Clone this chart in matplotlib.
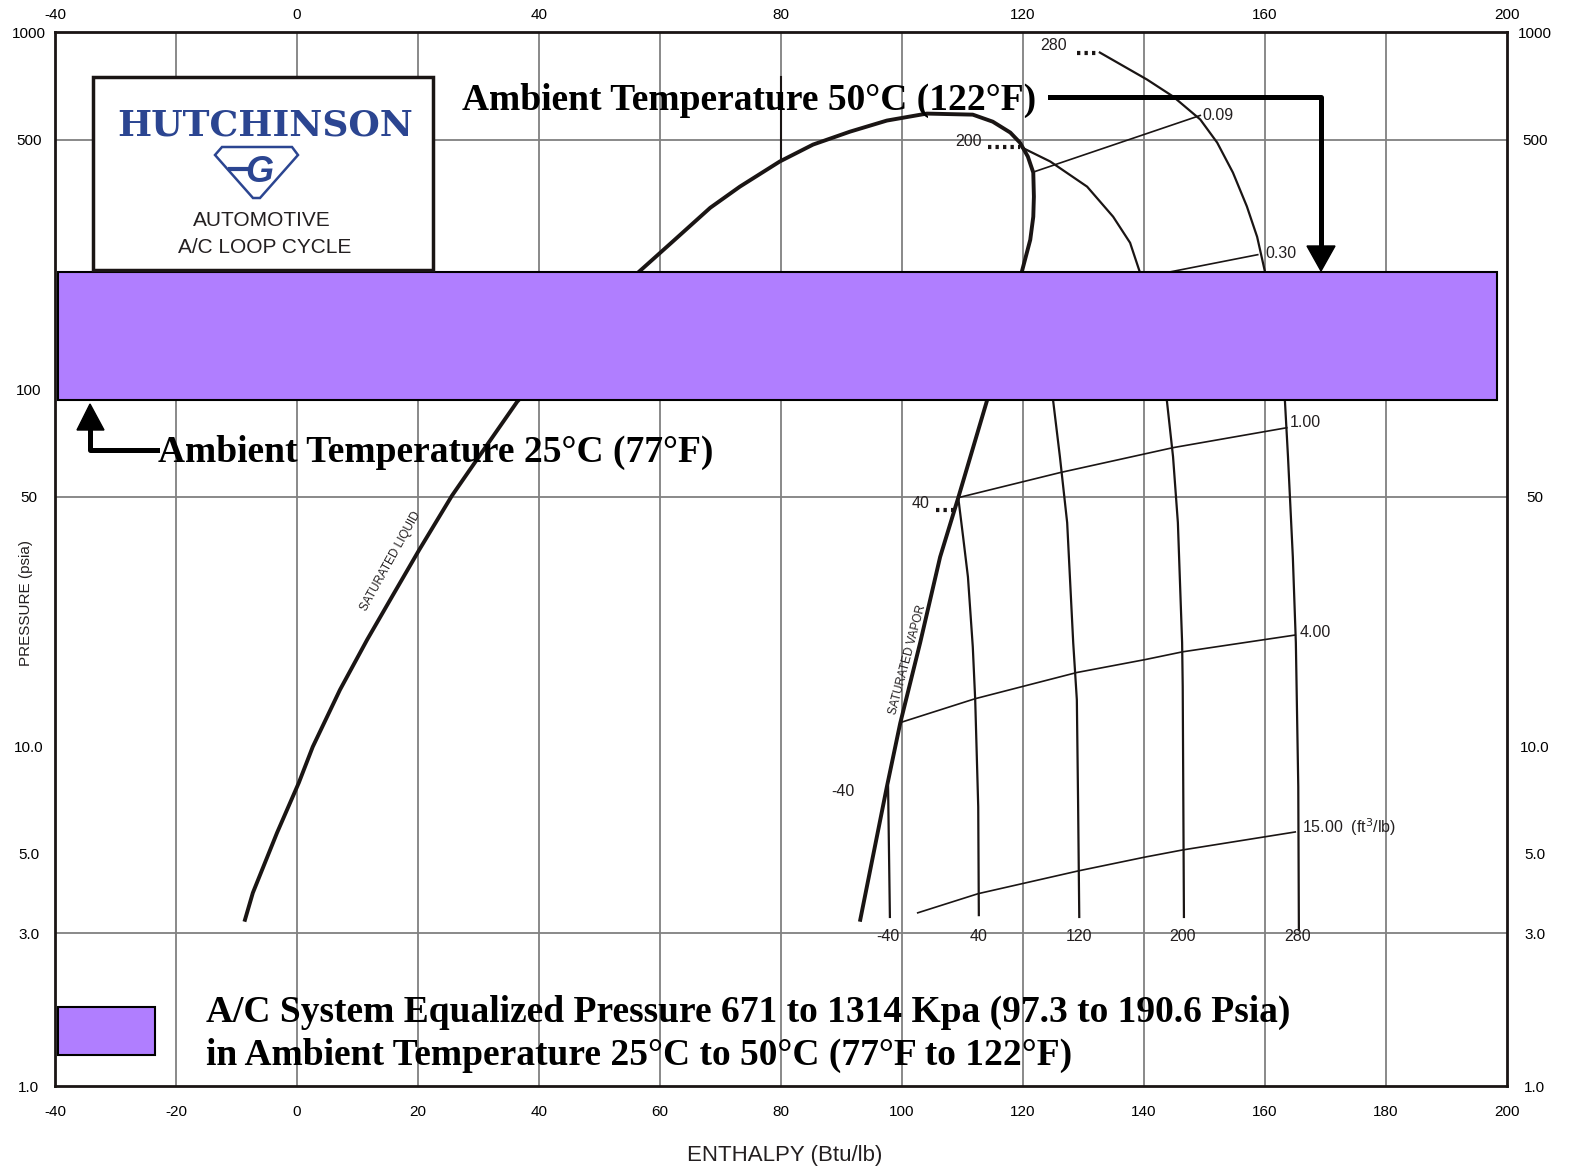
import matplotlib
matplotlib.use("Agg")
import matplotlib.pyplot as plt
from matplotlib.patches import Rectangle, Polygon
from matplotlib.lines import Line2D

# enthalpy (Btu/lb) / pressure (psia)
dome_h = [-8.6, -7.3, -3.3, 0.3, 2.6, 7.1, 11.6, 15.9, 20.2, 25.6, 31.1, 36.4, 46.8, 56.5,
          62.1, 68.3, 73.2, 79.8, 85.3, 91.4, 97.5, 104.1, 111.7, 115.0, 117.9, 119.5,
          120.8, 121.7, 121.8, 121.7, 121.2, 119.8,
          114.0, 109.3, 106.3, 103.0, 99.7, 97.5, 93.1]
dome_p = [3.27, 3.89, 5.73, 7.91, 9.97, 14.4, 19.9, 26.6, 35.5, 50.3, 68.6, 92.3, 142, 213,
          259, 322, 369, 434, 484, 526, 565, 591, 587, 561, 523, 490,
          448, 404, 346, 304, 262, 213,
          92.3, 49.7, 33.9, 19.5, 11.6, 7.71, 3.27]

# isotherms (deg F)
t_m40_h = [97.7, 98.0]
t_m40_p = [7.71, 3.33]
t_40_h = [109.3, 110.1, 110.9, 111.7, 112.1, 112.6, 112.7]
t_40_p = [49.7, 38.6, 29.8, 19.0, 13.5, 6.77, 3.37]
t_120_h = [124.1, 125.0, 126.1, 127.3, 128.3, 128.9, 129.1, 129.3]
t_120_p = [121, 92.3, 64.7, 42.3, 19.5, 13.5, 7.08, 3.33]
t_200_h = [119.8, 124.5, 130.6, 134.9, 137.7, 139.3, 143.8, 144.8, 145.6, 146.3, 146.4, 146.6]
t_200_p = [475, 434, 369, 304, 257, 213, 92.3, 64.7, 42.3, 19.5, 14.7, 3.33]
t_280_h = [132.7, 140.5, 144.8, 149.3, 152.1, 154.7, 157.0, 158.7, 160.0, 163.3, 163.8,
           164.6, 165.1, 165.5, 165.6]
t_280_p = [876, 736, 660, 569, 490, 404, 325, 267, 213, 92.3, 64.7, 33.9, 19.5, 7.71, 3.06]

# specific volume lines (ft3/lb)
v_009_h = [122.0, 149.3]
v_009_p = [407, 584]
v_030_h = [144.3, 158.8]
v_030_p = [213, 238]
v_100_h = [109.3, 126.1, 144.8, 163.6]
v_100_p = [49.7, 58.4, 68.6, 78.0]
v_400_h = [100.0, 112.1, 128.9, 140.2, 146.4, 165.0]
v_400_p = [11.7, 13.6, 16.1, 17.5, 18.4, 20.5]
v_1500_h = [102.6, 112.6, 129.1, 140.2, 146.4, 165.0]
v_1500_p = [3.42, 3.87, 4.48, 4.90, 5.13, 5.76]

marker_h = [80.0, 80.0]
marker_p = [746, 434]

# equalized pressure band as drawn
band_h = [-39.5, 198.3]
band_p = [93.5, 213.0]

bottom_ticks = list(range(-40, 201, 20))
top_ticks = [-40, 0, 40, 80, 120, 160, 200]
grid_h = list(range(-20, 181, 20))
grid_p = [3, 50, 500]
left_ticks = [1.12, 3, 5, 10, 50, 100, 500, 1000]
left_labels = ["1.0", "3.0", "5.0", "10.0", "50", "100", "500", "1000"]
right_ticks = [1.12, 3, 5, 10, 50, 500, 1000]
right_labels = ["1.0", "3.0", "5.0", "10.0", "50", "500", "1000"]

W, H = 1570, 1175
SANS = "Liberation Sans"
SERIF = "Liberation Serif"
PURPLE = "#b07eff"
BLUE = "#2b4591"


def fx(px):
    return px / W


def fy(py):
    return 1 - py / H


fig = plt.figure(figsize=(W / 100, H / 100), dpi=100)
ax = fig.add_axes([fx(55), fy(1086), 1452 / W, 1054 / H])
ax.set_yscale("log")
ax.set_xlim(-40, 200)
ax.set_ylim(1.12, 1000)

for g in grid_h:
    ax.axvline(g, color="#808080", lw=1.3, zorder=1)
for g in grid_p:
    ax.axhline(g, color="#808080", lw=1.3, zorder=1)

ax.plot(dome_h, dome_p, color="#1a1514", lw=2.8, zorder=3, solid_joinstyle="round")
for hh, pp in [(t_m40_h, t_m40_p), (t_40_h, t_40_p), (t_120_h, t_120_p),
               (t_200_h, t_200_p), (t_280_h, t_280_p)]:
    ax.plot(hh, pp, color="#1a1514", lw=1.6, zorder=3)
for hh, pp in [(v_009_h, v_009_p), (v_030_h, v_030_p), (v_100_h, v_100_p),
               (v_400_h, v_400_p), (v_1500_h, v_1500_p)]:
    ax.plot(hh, pp, color="#1a1514", lw=1.2, zorder=3)
ax.plot(marker_h, marker_p, color="#1a1514", lw=1.5, zorder=3)

# dotted leaders for isotherm labels
dots = dict(color="#1a1514", lw=3, ls=(0, (0.8, 1.0)), zorder=3)
ax.plot([114.2, 119.5], [475, 475], **dots)
ax.plot([128.9, 132.2], [876, 876], **dots)
ax.plot([105.6, 108.6], [46.0, 46.0], **dots)

lab = dict(fontsize=11.5, family=SANS, color="#231f20", zorder=4)
ax.text(113.2, 494, "200", ha="right", va="center", **lab)
ax.text(127.3, 917, "280", ha="right", va="center", **lab)
ax.text(104.5, 47.8, "40", ha="right", va="center", **lab)
ax.text(90.2, 7.46, "-40", ha="center", va="center", **lab)
ax.text(149.7, 584, "0.09", ha="left", va="center", **lab)
ax.text(160.0, 240, "0.30", ha="left", va="center", **lab)
ax.text(164.1, 80.6, "1.00", ha="left", va="center", **lab)
ax.text(165.8, 20.9, "4.00", ha="left", va="center", **lab)
ax.text(166.1, 5.95, "15.00  (ft$^3$/lb)", ha="left", va="center", **lab)
for hv, s in [(97.7, "-40"), (112.7, "40"), (129.3, "120"), (146.4, "200"), (165.3, "280")]:
    ax.text(hv, 2.93, s, ha="center", va="center", **lab)
ax.text(15.5, 33, "SATURATED LIQUID", rotation=61, ha="center", va="center",
        fontsize=8.5, family=SANS, color="#231f20", zorder=4)
ax.text(101.0, 17.5, "SATURATED VAPOR", rotation=75, ha="center", va="center",
        fontsize=8.5, family=SANS, color="#231f20", zorder=4)

ax.add_patch(Rectangle((band_h[0], band_p[0]), band_h[1] - band_h[0], band_p[1] - band_p[0],
                       facecolor=PURPLE, edgecolor="black", lw=1.5, zorder=5))

# axes styling
for sp in ax.spines.values():
    sp.set_linewidth(2)
    sp.set_color("#1a1514")
ax.set_xticks(bottom_ticks)
ax.set_xticklabels([str(t) for t in bottom_ticks], fontsize=11, family=SANS)
ax.set_yticks(left_ticks)
ax.set_yticklabels(left_labels, fontsize=11, family=SANS)
ax.minorticks_off()
ax.tick_params(axis="x", length=0, pad=14)
ax.tick_params(axis="y", length=0, pad=19)
for t in ax.get_yticklabels():
    t.set_horizontalalignment("center")

top = ax.secondary_xaxis("top")
top.set_xticks(top_ticks)
top.set_xticklabels([str(t) for t in top_ticks], fontsize=11, family=SANS)
top.tick_params(length=0, pad=7)
right = ax.secondary_yaxis("right")
right.set_yticks(right_ticks)
right.set_yticklabels(right_labels, fontsize=11, family=SANS)
right.yaxis.set_minor_locator(matplotlib.ticker.NullLocator())
right.tick_params(length=0, pad=20)
for t in right.get_yticklabels():
    t.set_horizontalalignment("center")

fig.text(fx(785), fy(1155), "ENTHALPY (Btu/lb)", ha="center", va="center",
         fontsize=16, family=SANS, color="#231f20")
fig.text(fx(26), fy(603), "PRESSURE (psia)", ha="center", va="center", rotation=90,
         fontsize=11, family=SANS, color="#231f20")

# logo box
fig.add_artist(Rectangle((fx(93), fy(270)), 340 / W, 193 / H, transform=fig.transFigure,
                         facecolor="white", edgecolor="#1a1514", lw=2.5, zorder=6))
fig.text(fx(265), fy(125), "HUTCHINSON", ha="center", va="center", fontsize=26,
         family="DejaVu Serif", weight="bold", color=BLUE, zorder=7)
shield = [(fx(222), fy(147)), (fx(292), fy(147)), (fx(298), fy(155)), (fx(260), fy(198)),
          (fx(253), fy(198)), (fx(215), fy(155))]
fig.add_artist(Polygon(shield, closed=True, transform=fig.transFigure, facecolor="white",
                       edgecolor=BLUE, lw=1.8, zorder=7))
fig.add_artist(Line2D([fx(230), fx(250)], [fy(169), fy(169)], transform=fig.transFigure,
                      color=BLUE, lw=3, zorder=8))
fig.text(fx(259), fy(172), "G", ha="center", va="center", fontsize=26, weight="bold",
         style="italic", family=SANS, color=BLUE, zorder=8)
fig.text(fx(262), fy(221), "AUTOMOTIVE", ha="center", va="center", fontsize=15,
         family=SANS, color="#231f20", zorder=7)
fig.text(fx(265), fy(247), "A/C LOOP CYCLE", ha="center", va="center", fontsize=15,
         family=SANS, color="#231f20", zorder=7)

# ambient temperature callouts
big = dict(fontsize=27, family=SERIF, weight="bold", color="black", zorder=8)
fig.text(fx(462), fy(100), "Ambient Temperature 50°C (122°F)", ha="left", va="center", **big)
fig.add_artist(Line2D([fx(1050), fx(1321), fx(1321)], [fy(97), fy(97), fy(248)],
                      transform=fig.transFigure, color="black", lw=3.6, zorder=8))
fig.add_artist(Polygon([(fx(1307), fy(246)), (fx(1335), fy(246)), (fx(1321), fy(271))],
                       closed=True, transform=fig.transFigure, color="black", zorder=8))

fig.text(fx(158), fy(452), "Ambient Temperature 25°C (77°F)", ha="left", va="center", **big)
fig.add_artist(Line2D([fx(157), fx(90), fx(90)], [fy(450), fy(450), fy(428)],
                      transform=fig.transFigure, color="black", lw=3.6, zorder=8))
fig.add_artist(Polygon([(fx(77), fy(430)), (fx(104), fy(430)), (fx(90), fy(404))],
                       closed=True, transform=fig.transFigure, color="black", zorder=8))

# legend
fig.add_artist(Rectangle((fx(58), fy(1055)), 97 / W, 48 / H, transform=fig.transFigure,
                         facecolor=PURPLE, edgecolor="black", lw=1.5, zorder=8))
leg = dict(fontsize=27, family=SERIF, weight="bold", color="black", zorder=8)
fig.text(fx(206), fy(1012), "A/C System Equalized Pressure 671 to 1314 Kpa (97.3 to 190.6 Psia)",
         ha="left", va="center", **leg)
fig.text(fx(206), fy(1055), "in Ambient Temperature 25°C to 50°C (77°F to 122°F)",
         ha="left", va="center", **leg)

fig.savefig("out.png", dpi=100)
